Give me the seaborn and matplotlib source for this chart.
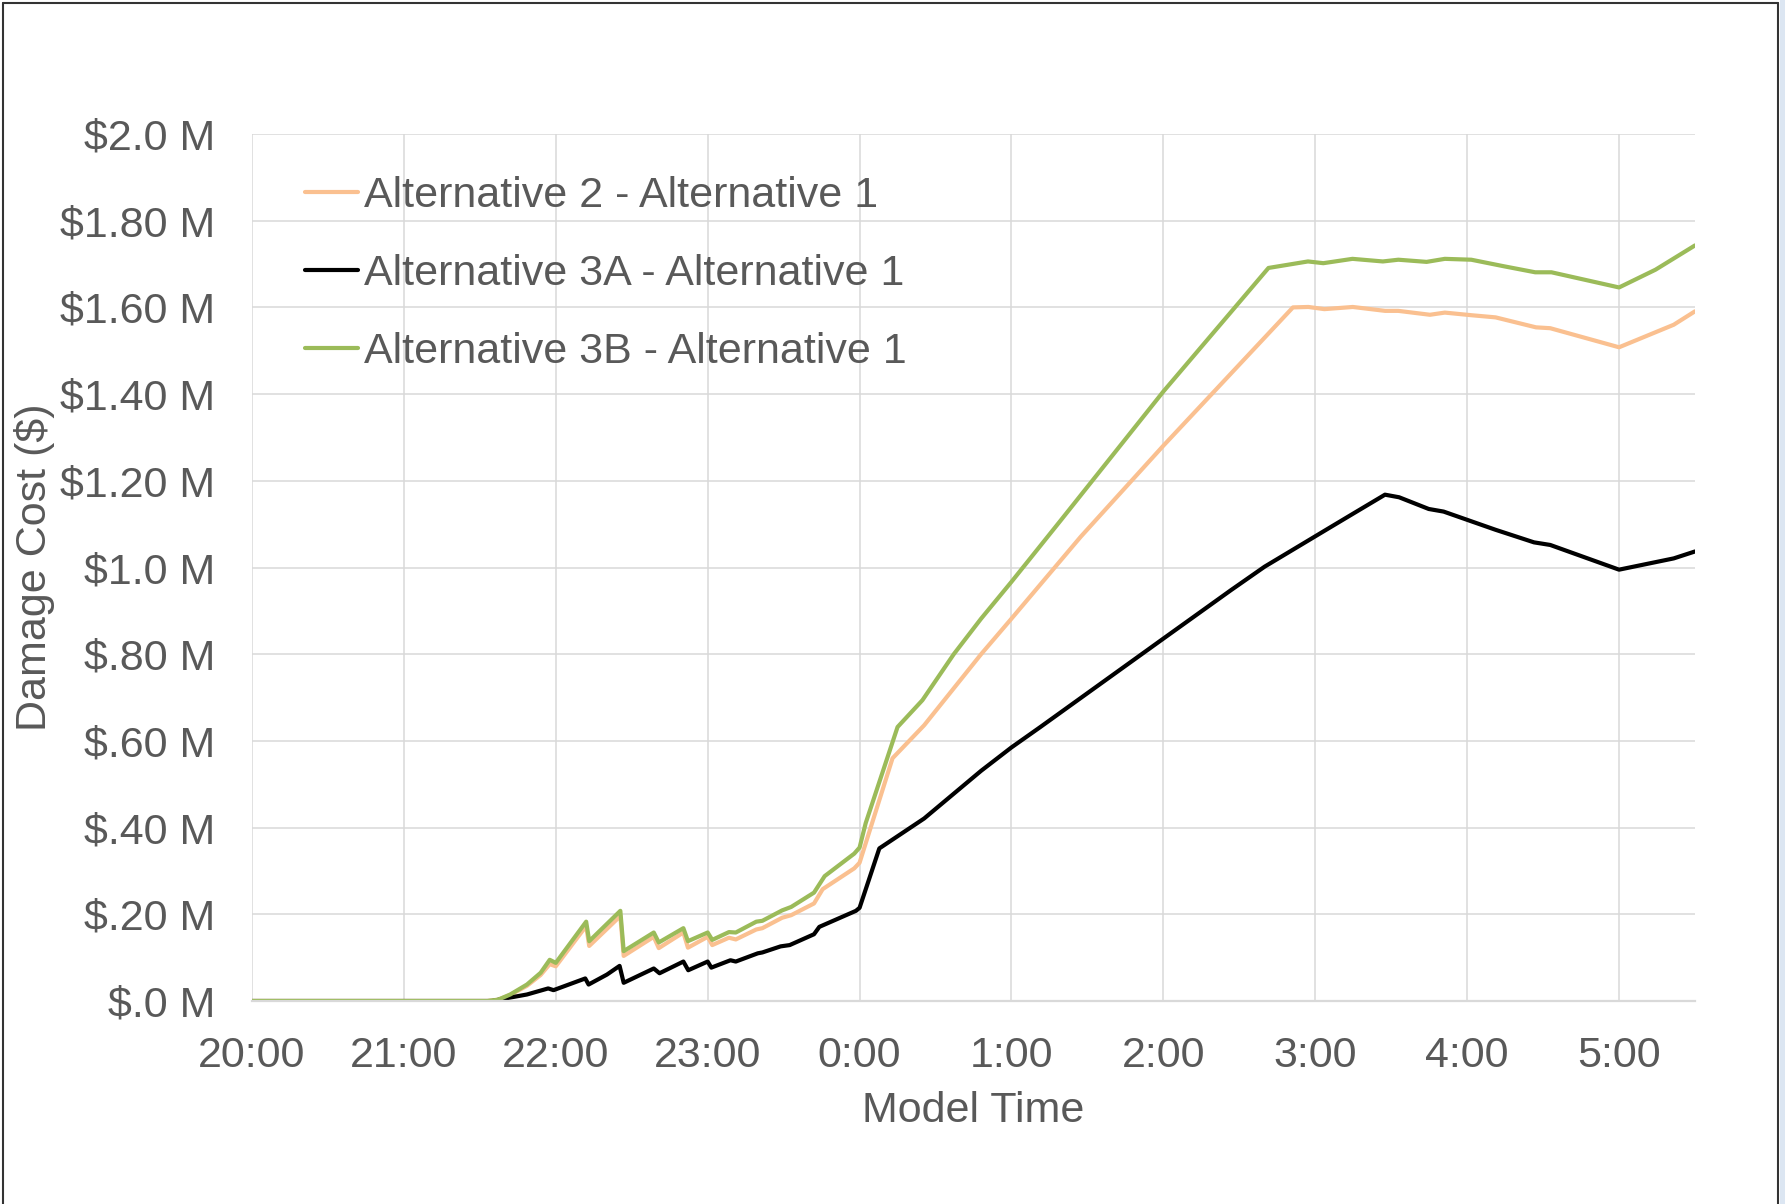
import numpy as np
import pandas as pd
import matplotlib
matplotlib.use("Agg")
import matplotlib.pyplot as plt
import seaborn as sns
from matplotlib.lines import Line2D
from matplotlib.patches import Rectangle

# ---- data (hours after 20:00, $ millions) ----
alt2_t = [0, 1.55, 1.62, 1.70, 1.81, 1.90, 1.96, 2.00, 2.20, 2.22, 2.425, 2.447, 2.645, 2.678,
          2.84, 2.87, 3.00, 3.03, 3.14, 3.185, 3.32, 3.36, 3.49, 3.55, 3.70, 3.757, 3.965, 4.0,
          4.217, 4.425, 4.80, 5.0, 5.456, 6.0, 6.853, 6.955, 7.06, 7.247, 7.46, 7.547, 7.755, 7.853,
          8.027, 8.187, 8.453, 8.547, 9.0, 9.36, 9.5]
alt2_v = [0, 0, 0.003, 0.014, 0.035, 0.060, 0.085, 0.080, 0.173, 0.127, 0.196, 0.104, 0.148, 0.122,
          0.158, 0.123, 0.148, 0.129, 0.146, 0.142, 0.165, 0.168, 0.192, 0.198, 0.225, 0.258, 0.306, 0.319,
          0.560, 0.636, 0.800, 0.882, 1.071, 1.281, 1.600, 1.601, 1.596, 1.601, 1.592, 1.592, 1.583, 1.588,
          1.582, 1.577, 1.554, 1.552, 1.508, 1.560, 1.591]

alt3a_t = [0, 1.58, 1.70, 1.81, 1.95, 1.985, 2.194, 2.216, 2.337, 2.42, 2.447, 2.645, 2.683,
           2.84, 2.872, 3.0, 3.024, 3.15, 3.185, 3.33, 3.36, 3.48, 3.54, 3.70, 3.735, 3.976, 4.0,
           4.13, 4.425, 4.80, 5.0, 5.19, 6.0, 6.446, 6.667, 7.105, 7.253, 7.459, 7.552, 7.747, 7.845,
           8.187, 8.44, 8.547, 9.0, 9.36, 9.5]
alt3a_v = [0, 0, 0.008, 0.015, 0.029, 0.025, 0.052, 0.038, 0.061, 0.081, 0.042, 0.075, 0.064,
           0.091, 0.071, 0.091, 0.077, 0.094, 0.091, 0.110, 0.112, 0.126, 0.129, 0.154, 0.171, 0.208, 0.215,
           0.352, 0.421, 0.531, 0.585, 0.632, 0.836, 0.948, 1.002, 1.094, 1.125, 1.168, 1.162, 1.135, 1.129,
           1.087, 1.058, 1.052, 0.995, 1.021, 1.037]

alt3b_t = [0, 1.55, 1.62, 1.70, 1.81, 1.90, 1.96, 2.00, 2.20, 2.22, 2.425, 2.447, 2.645, 2.678,
           2.84, 2.87, 3.00, 3.03, 3.14, 3.185, 3.32, 3.36, 3.49, 3.55, 3.70, 3.77, 3.965, 4.0,
           4.04, 4.25, 4.414, 4.62, 4.80, 5.0, 5.325, 6.0, 6.692, 6.952, 7.053, 7.245, 7.445, 7.547,
           7.733, 7.853, 8.027, 8.24, 8.448, 8.555, 9.0, 9.24, 9.5]
alt3b_v = [0, 0, 0.003, 0.015, 0.038, 0.065, 0.095, 0.088, 0.183, 0.138, 0.208, 0.115, 0.158, 0.135,
           0.168, 0.138, 0.158, 0.141, 0.159, 0.158, 0.183, 0.185, 0.209, 0.217, 0.250, 0.288, 0.340, 0.354,
           0.410, 0.632, 0.694, 0.800, 0.882, 0.967, 1.109, 1.406, 1.691, 1.706, 1.702, 1.712, 1.706, 1.710,
           1.705, 1.712, 1.710, 1.695, 1.681, 1.681, 1.646, 1.687, 1.743]

series_names = ["Alternative 2 - Alternative 1",
                "Alternative 3A - Alternative 1",
                "Alternative 3B - Alternative 1"]
series_colors = ["#FAC090", "#000000", "#9BBB59"]

x_ticks = [0, 1, 2, 3, 4, 5, 6, 7, 8, 9]
x_tick_labels = ["20:00", "21:00", "22:00", "23:00", "0:00", "1:00", "2:00", "3:00", "4:00", "5:00"]
y_ticks = [0.0, 0.2, 0.4, 0.6, 0.8, 1.0, 1.2, 1.4, 1.6, 1.8, 2.0]
y_tick_labels = ["$.0 M", "$.20 M", "$.40 M", "$.60 M", "$.80 M", "$1.0 M",
                 "$1.20 M", "$1.40 M", "$1.60 M", "$1.80 M", "$2.0 M"]

df = pd.concat([
    pd.DataFrame({"t": alt2_t, "v": alt2_v, "s": series_names[0]}),
    pd.DataFrame({"t": alt3a_t, "v": alt3a_v, "s": series_names[1]}),
    pd.DataFrame({"t": alt3b_t, "v": alt3b_v, "s": series_names[2]}),
], ignore_index=True)

# ---- style ----
sns.set_theme(style="white")
plt.rcParams["font.family"] = ["Liberation Sans", "DejaVu Sans"]
TXT = "#595959"
GRID = "#D9D9D9"
FS = 31
LW = 3.0

W, H = 1785, 1204
fig = plt.figure(figsize=(W / 100, H / 100), dpi=100)
fig.patch.set_facecolor("white")
ax = fig.add_axes([252 / W, 1 - 1001 / H, (1695 - 252) / W, (1001 - 134) / H])

sns.lineplot(data=df, x="t", y="v", hue="s", hue_order=series_names,
             palette=dict(zip(series_names, series_colors)),
             estimator=None, errorbar=None, sort=True, linewidth=LW, ax=ax)

ax.set_xlim(0, 9.5)
ax.set_ylim(0, 2.0)
ax.set_xticks(x_ticks)
ax.set_xticklabels(x_tick_labels)
ax.set_yticks(y_ticks)
ax.set_yticklabels(y_tick_labels)
ax.tick_params(axis="both", length=0, labelsize=FS, colors=TXT)
ax.tick_params(axis="x", pad=25)
ax.tick_params(axis="y", pad=26.5)

ax.set_axisbelow(True)
ax.grid(True, color=GRID, linewidth=1.1)
for sp in ["top", "right", "left"]:
    ax.spines[sp].set_visible(False)
ax.spines["bottom"].set_color(GRID)
ax.spines["bottom"].set_linewidth(1.6)

ax.set_xlabel("Model Time", fontsize=FS, color=TXT)
ax.set_ylabel("Damage Cost ($)", fontsize=FS, color=TXT)
ax.xaxis.set_label_coords(0.5, (1001 - 1091) / 867)
ax.yaxis.set_label_coords((55 - 252) / 1443, 0.5)

leg = ax.legend(loc="upper left", bbox_to_anchor=((305 - 252) / 1443, (1001 - 176) / 867),
                frameon=False, fontsize=FS, handlelength=1.23, handletextpad=0.14,
                labelspacing=0.88, borderpad=0, borderaxespad=0)
for txt in leg.get_texts():
    txt.set_color(TXT)
for lh in leg.get_lines():
    lh.set_linewidth(LW)

# outer chart border
fig.add_artist(Rectangle((1780 / W, 0), 5 / W, 1, transform=fig.transFigure,
                         facecolor="#DCE6F2", edgecolor="none"))
fig.add_artist(Line2D([3 / W, 3 / W], [0, 1 - 3 / H], transform=fig.transFigure,
                      color="#333333", linewidth=1.5))
fig.add_artist(Line2D([3 / W, 1778 / W], [1 - 3 / H, 1 - 3 / H], transform=fig.transFigure,
                      color="#333333", linewidth=1.5))
fig.add_artist(Line2D([1778 / W, 1778 / W], [0, 1 - 3 / H], transform=fig.transFigure,
                      color="#333333", linewidth=1.5))

fig.savefig("out.png", dpi=100, facecolor="white")
